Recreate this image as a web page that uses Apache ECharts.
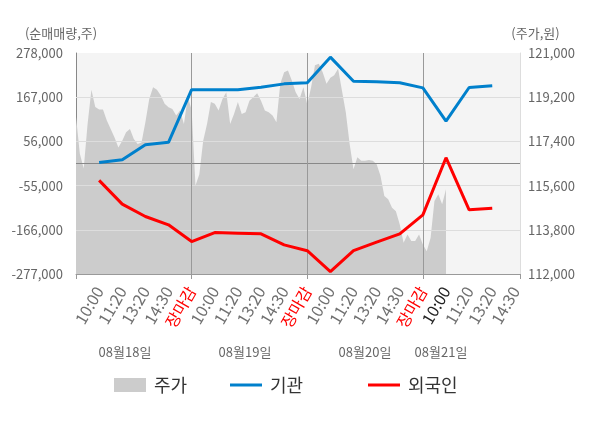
<!DOCTYPE html>
<html>
<head>
<meta charset="utf-8">
<script src="https://cdn.jsdelivr.net/npm/echarts@6/dist/echarts.min.js"></script>
<style>
html,body{margin:0;padding:0;background:#fff;}
#chart{width:600px;height:428px;}
</style>
</head>
<body>
<div id="chart"></div>
<script>
// ---- data ----
const xLabels = ['10:00','11:20','13:20','14:30','장마감','10:00','11:20','13:20','14:30','장마감','10:00','11:20','13:20','14:30','장마감','10:00','11:20','13:20','14:30'];
const dates = ['08월18일','08월19일','08월20일','08월21일'];
const institution = [3000, 10000, 47800, 53600, 186000, 186000, 186000, 192000, 200500, 203500, 267600, 207100, 205600, 203100, 190500, 107000, 191300, 195500];
const foreign = [-42000, -101400, -132600, -153500, -195500, -172900, -174500, -176200, -203900, -218500, -271000, -218100, -197100, -176200, -128400, 15000, -115800, -111600];
const priceDay1 = [118400,116900,116300,118100,119500,118800,118700,118700,118250,117900,117560,117150,117430,117770,117900,117500,117290,117360,118180,119130,119610,119500,119270,118930,118790,118720,118450,118660,118110,119200];
const priceDay2 = [118700,115600,116060,117430,118110,119000,118930,118660,119130,119400,118110,118520,119000,118520,118590,119060,119200,119360,119060,118660,118590,118450,118180,119750,120220,120290,119880,119400,119130,119610];
const priceDay3 = [118900,119610,120500,120560,120220,119750,119990,120090,120360,119470,118590,117290,116270,116750,116610,116610,116640,116610,116470,116000,115180,115040,114700,114560,114020,113270,113610,113340,113340,113610];
const priceDay4 = [113200,112930,113470,114970,115250,114840,115450];
const leftTicks = [-277000,-166000,-55000,56000,167000,278000];
const rightTicks = [112000,113800,115600,117400,119200,121000];

// ---- build ----
const SAMPLES_PER_DAY = 30, SLOTS_PER_DAY = 5;
const X_MIN = -1, X_MAX = 18.2;
const priceData = [];
[priceDay1, priceDay2, priceDay3, priceDay4].forEach((day, d) => {
  const start = X_MIN + SLOTS_PER_DAY * d;
  day.forEach((v, i) => priceData.push([start + i * SLOTS_PER_DAY / SAMPLES_PER_DAY, v]));
});
const instData = institution.map((v, i) => [i, v]);
const forData = foreign.map((v, i) => [i, v]);
const dayBounds = [4, 9, 14];

const FONT = '"Noto Sans CJK KR", "Noto Sans", sans-serif';
const fmt = v => Number(v).toLocaleString('en-US');
const hLine = (v, color) => [
  { coord: [X_MIN, v], lineStyle: { color: color, type: 'solid', width: 1 } },
  { coord: [X_MAX, v] }
];
const vLine = (x, color) => [
  { coord: [x, leftTicks[0]], lineStyle: { color: color, type: 'solid', width: 1 } },
  { coord: [x, leftTicks[leftTicks.length - 1]] }
];
const legendText = { fontSize: 18, color: '#333', fontFamily: FONT, padding: [0, 0, 0, 3] };

const chart = echarts.init(document.getElementById('chart'));
chart.setOption({
  animation: false,
  backgroundColor: '#fff',
  textStyle: { fontFamily: FONT },
  grid: { left: 76, right: 80, top: 53, bottom: 154, show: true, backgroundColor: '#f4f4f4', borderWidth: 0 },
  legend: [
    { data: [{ name: '주가', icon: 'rect' }], left: 114, top: 376, padding: 0, itemWidth: 32, itemHeight: 14, textStyle: legendText },
    { data: [{ name: '기관', icon: 'rect' }], left: 230, top: 376, padding: 0, itemWidth: 32, itemHeight: 3, textStyle: legendText },
    { data: [{ name: '외국인', icon: 'rect' }], left: 368, top: 376, padding: 0, itemWidth: 32, itemHeight: 3, textStyle: legendText }
  ],
  xAxis: {
    type: 'value', min: X_MIN, max: X_MAX,
    axisLine: { show: true, onZero: false, lineStyle: { color: '#999' } },
    axisTick: { show: true, customValues: [X_MIN].concat(dayBounds, [X_MAX]), length: 5, lineStyle: { color: '#999' } },
    splitLine: { show: false },
    axisLabel: {
      customValues: xLabels.map((_, i) => i),
      rotate: 60, margin: 14, fontSize: 16, color: '#707070', fontFamily: FONT,
      formatter: v => {
        const i = Math.round(v);
        const t = xLabels[i];
        if (t === '장마감') return '{r|' + t + '}';
        if (i === 15) return '{b|' + t + '}';
        return t;
      },
      rich: {
        r: { color: '#ff0000', fontSize: 16, fontFamily: FONT },
        b: { color: '#222', fontSize: 16, fontFamily: FONT }
      }
    }
  },
  yAxis: [
    {
      type: 'value', min: leftTicks[0], max: leftTicks[leftTicks.length - 1], position: 'left',
      name: '(순매매량,주)', nameLocation: 'end', nameGap: 13,
      nameTextStyle: { color: '#666', fontSize: 13, align: 'center', padding: [0, 30, 0, 0], fontFamily: FONT },
      axisLine: { show: true, onZero: false, lineStyle: { color: '#888' } },
      axisTick: { show: false, customValues: leftTicks },
      splitLine: { show: false },
      axisLabel: { customValues: leftTicks, formatter: fmt, color: '#666', fontSize: 13, margin: 13, fontFamily: FONT }
    },
    {
      type: 'value', min: rightTicks[0], max: rightTicks[rightTicks.length - 1], position: 'right',
      name: '(주가,원)', nameLocation: 'end', nameGap: 13,
      nameTextStyle: { color: '#666', fontSize: 13, align: 'center', padding: [0, 0, 0, 31], fontFamily: FONT },
      axisLine: { show: true, onZero: false, lineStyle: { color: '#ddd' } },
      axisTick: { show: false, customValues: rightTicks },
      splitLine: { show: false },
      axisLabel: { customValues: rightTicks, formatter: fmt, color: '#666', fontSize: 13, margin: 8, fontFamily: FONT }
    }
  ],
  series: [
    {
      name: '주가', type: 'line', xAxisIndex: 0, yAxisIndex: 1, data: priceData,
      symbol: 'none', z: 2,
      lineStyle: { width: 0, color: '#cccccc' },
      itemStyle: { color: '#cccccc' },
      areaStyle: { color: '#cccccc', opacity: 1, origin: 'start' }
    },
    {
      name: 'grid-lines', type: 'line', xAxisIndex: 0, yAxisIndex: 0, data: [],
      markLine: {
        silent: true, symbol: ['none', 'none'], label: { show: false },
        lineStyle: { type: 'solid', width: 1, color: '#dddddd' },
        data: leftTicks.slice(1, -1).map(v => hLine(v, '#dddddd'))
          .concat([hLine(0, '#888888')])
          .concat(dayBounds.map(x => vLine(x, '#999999')))
      }
    },
    {
      name: '기관', type: 'line', xAxisIndex: 0, yAxisIndex: 0, data: instData,
      symbol: 'none', z: 6,
      lineStyle: { width: 3, color: '#0080cc' }, itemStyle: { color: '#0080cc' }
    },
    {
      name: '외국인', type: 'line', xAxisIndex: 0, yAxisIndex: 0, data: forData,
      symbol: 'none', z: 6,
      lineStyle: { width: 3, color: '#ff0000' }, itemStyle: { color: '#ff0000' }
    }
  ],
  graphic: [125, 245, 365, 441].map((cx, i) => ({
    type: 'text', x: cx, y: 352.5,
    style: { text: dates[i], fill: '#666', font: '13px ' + FONT, align: 'center', verticalAlign: 'middle' }
  }))
});
</script>
</body>
</html>
